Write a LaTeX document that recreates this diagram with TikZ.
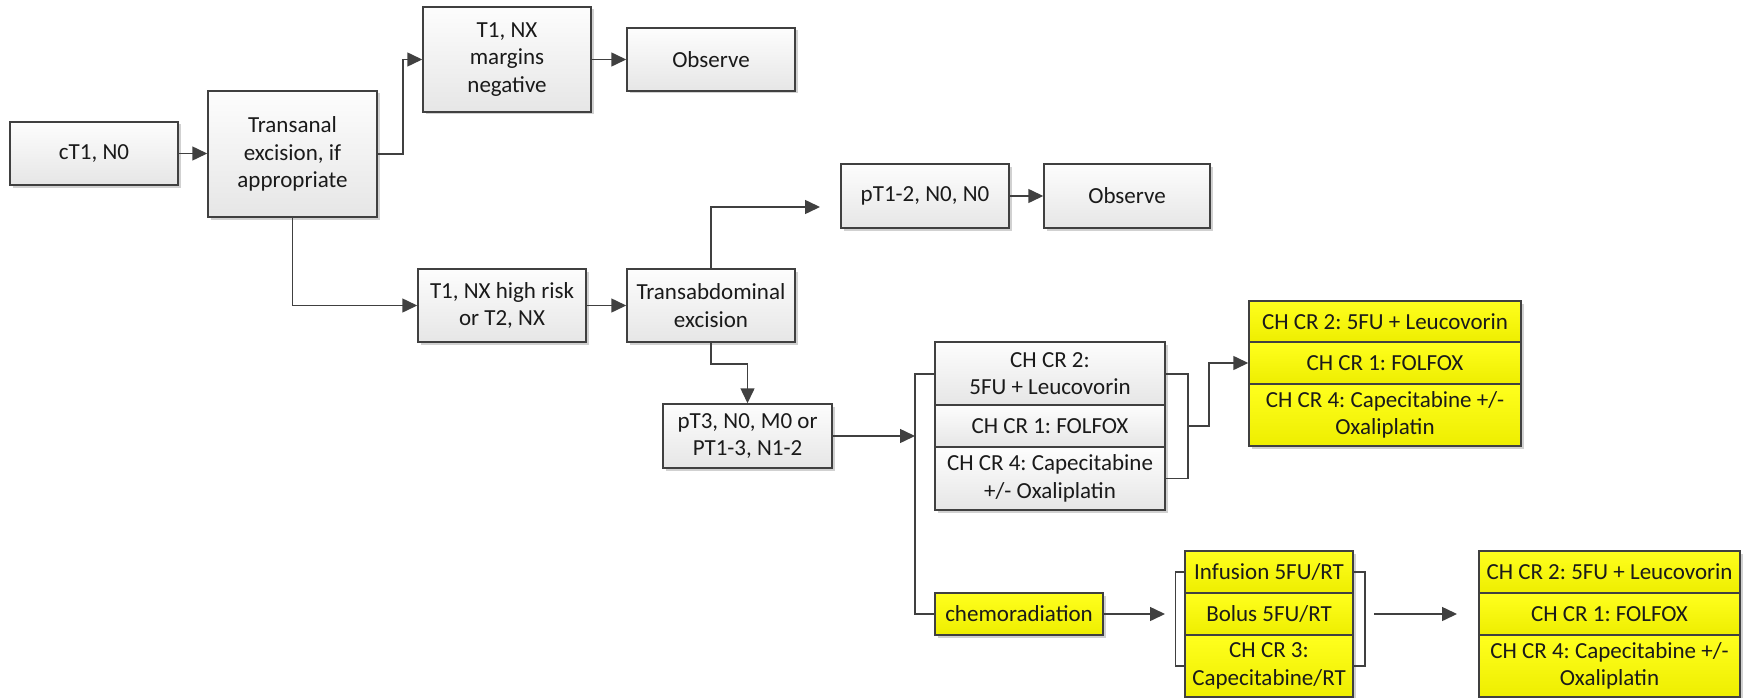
\documentclass[tikz,border=0pt]{standalone}
\usepackage{fontspec}
\setmainfont{Carlito}
\frenchspacing
\usetikzlibrary{arrows.meta,shadows}
\definecolor{edge}{HTML}{404040}
\definecolor{txt}{HTML}{1A1A1A}
\tikzset{
  basebox/.style={draw=edge, line width=1.5pt, rectangle, inner sep=0pt, align=center,
    text=txt, font=\fontsize{23}{27.5}\selectfont,
    drop shadow={shadow xshift=2.5pt, shadow yshift=-2.5pt, fill=black, opacity=0.18}},
  gbox/.style={basebox, top color={rgb,255:red,253;green,253;blue,253}, bottom color={rgb,255:red,230;green,230;blue,230}},
  ybox/.style={basebox, top color={rgb,255:red,255;green,255;blue,30}, bottom color={rgb,255:red,238;green,238;blue,0}},
  conn/.style={draw=edge, line width=1.5pt, -{Triangle[length=15pt,width=14pt]}},
  link/.style={draw=edge, line width=1.5pt}
}
\begin{document}
\begin{tikzpicture}[x=1pt,y=-1pt]
\useasboundingbox (0,0) rectangle (1744,698);
% top row
\node[gbox, minimum width=168pt, minimum height=63pt] (ct1) at (94,153.5) {cT1, N0};
\node[gbox, minimum width=169pt, minimum height=126pt] (trans) at (292.5,154) {Transanal\\excision, if\\appropriate};
\node[gbox, minimum width=168pt, minimum height=105pt] (marg) at (507,59.5) {T1, NX\\margins\\negative};
\node[gbox, minimum width=168pt, minimum height=63pt] (obs1) at (711,59.5) {Observe};
\node[gbox, minimum width=168pt, minimum height=64pt] (p12) at (925,196) {pT1-2, N0, N0};
\node[gbox, minimum width=166pt, minimum height=64pt] (obs2) at (1127,196) {Observe};
\node[gbox, minimum width=168pt, minimum height=73pt] (hr) at (502,305.5) {T1, NX high risk\\or T2, NX};
\node[gbox, minimum width=168pt, minimum height=73pt] (tab) at (711,305.5) {Transabdominal\\excision};
\node[gbox, minimum width=169pt, minimum height=64pt] (pt3) at (747.5,436) {pT3, N0, M0 or\\PT1-3, N1-2};
% gray stack
\node[gbox, minimum width=230pt, minimum height=63pt] (g1) at (1050,373.5) {CH CR 2:\\5FU + Leucovorin};
\node[gbox, minimum width=230pt, minimum height=42pt] (g2) at (1050,426) {CH CR 1: FOLFOX};
\node[gbox, minimum width=230pt, minimum height=63pt] (g3) at (1050,478.5) {CH CR 4: Capecitabine\\+/- Oxaliplatin};
% top right yellow stack
\node[ybox, minimum width=272pt, minimum height=41pt] (t1) at (1385,321.5) {CH CR 2: 5FU + Leucovorin};
\node[ybox, minimum width=272pt, minimum height=42pt] (t2) at (1385,363) {CH CR 1: FOLFOX};
\node[ybox, minimum width=272pt, minimum height=62pt] (t3) at (1385,415) {CH CR 4: Capecitabine +/-\\Oxaliplatin};
% chemoradiation
\node[ybox, minimum width=168pt, minimum height=42pt] (chemo) at (1019,614) {chemoradiation};
% middle yellow stack
\node[ybox, minimum width=168pt, minimum height=42pt] (m1) at (1269,572) {Infusion 5FU/RT};
\node[ybox, minimum width=168pt, minimum height=42pt] (m2) at (1269,614) {Bolus 5FU/RT};
\node[ybox, minimum width=168pt, minimum height=62pt] (m3) at (1269,666) {CH CR 3:\\Capecitabine/RT};
% bottom right yellow stack
\node[ybox, minimum width=261pt, minimum height=42pt] (b1) at (1609.5,572) {CH CR 2: 5FU + Leucovorin};
\node[ybox, minimum width=261pt, minimum height=42pt] (b2) at (1609.5,614) {CH CR 1: FOLFOX};
\node[ybox, minimum width=261pt, minimum height=62pt] (b3) at (1609.5,666) {CH CR 4: Capecitabine +/-\\Oxaliplatin};
% free coordinates
\coordinate (p12tip) at (820,207);
\coordinate (brL) at (915,374);
\coordinate (brR) at (1188,374);
\coordinate (chemotip) at (1165,614);
\coordinate (midout) at (1374,614);
\coordinate (midtip) at (1457,614);
% connectors
\draw[conn] (ct1.east) -- (ct1.east -| trans.west);
\draw[conn] (trans.east) -- ++(25,0) |- (marg.west);
\draw[conn] (marg.east) -- (obs1.west);
\draw[conn] (trans.south) |- (hr.west);
\draw[conn] (hr.east) -- (tab.west);
\draw[conn] (tab.north) |- (p12tip);
\draw[conn] (p12.east) -- (obs2.west);
\draw[conn] (tab.south) -- ++(0,21) -| (pt3.north);
\draw[conn] (pt3.east) -- (pt3.east -| brL);
\draw[link] (g1.west |- brL) -- (brL) |- (chemo.west);
\draw[link] (g1.east |- brR) -- (brR) |- (g3.east);
\draw[conn] (g2.east -| brR) -- ++(21,0) |- (t2.west);
\draw[conn] (chemo.east) -- (chemotip);
\draw[link] (m1.west) -- ++(-9,0) |- (m3.west);
\draw[link] (m1.east) -- ++(11,0) |- (m3.east);
\draw[conn] (midout) -- (midtip);
\end{tikzpicture}
\end{document}
